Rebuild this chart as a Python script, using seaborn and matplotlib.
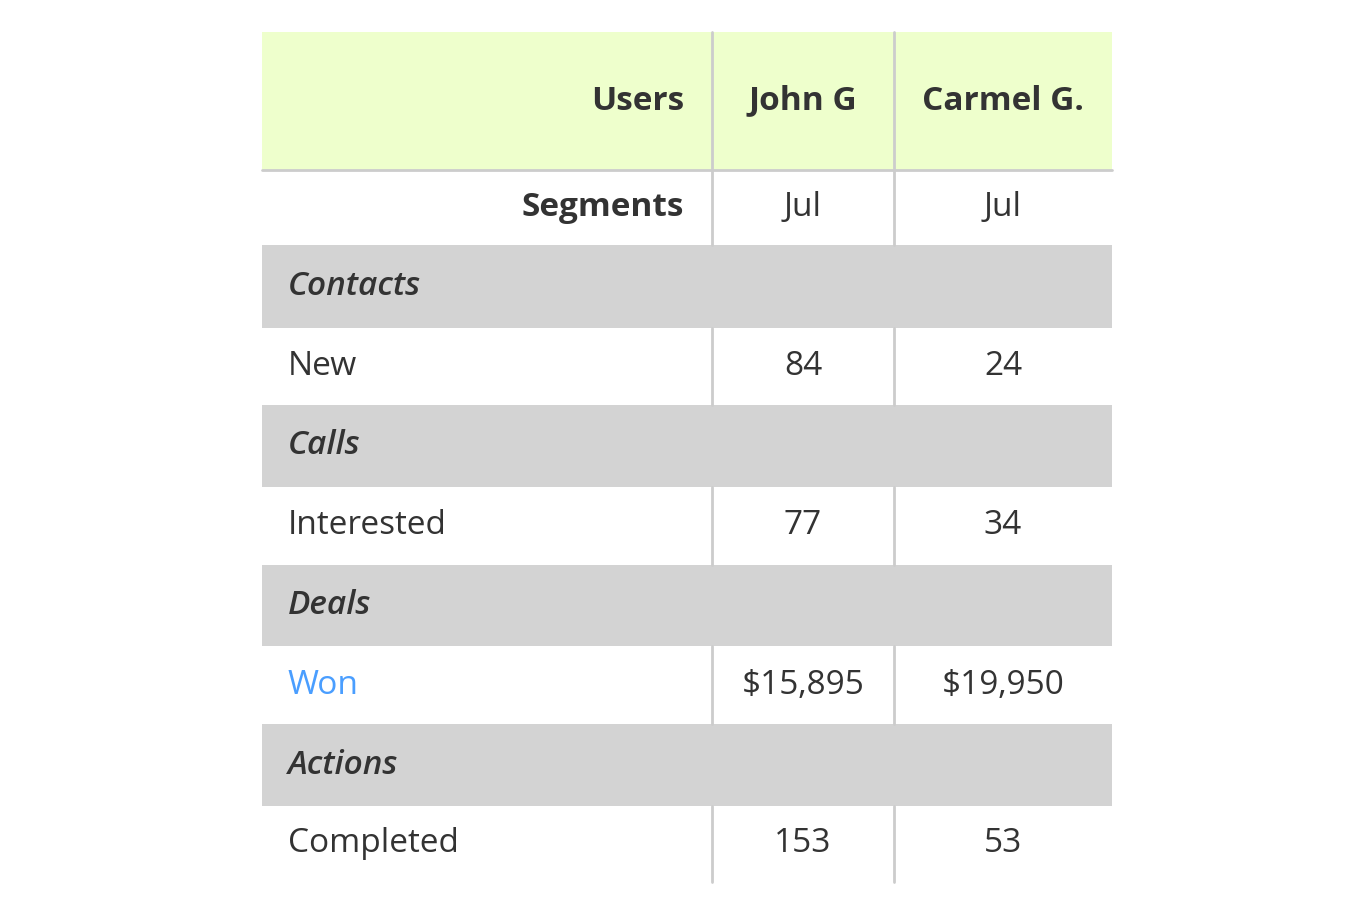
import matplotlib
matplotlib.use("Agg")
import matplotlib.pyplot as plt
from matplotlib.patches import Rectangle
import seaborn as sns

sns.set_theme(style="white")

users = ["John G", "Carmel G."]
segments = ["Jul", "Jul"]
sections = ["Contacts", "Calls", "Deals", "Actions"]
metrics = ["New", "Interested", "Won", "Completed"]
john_vals = ["84", "77", "$15,895", "153"]
carmel_vals = ["24", "34", "$19,950", "53"]

W, H = 1372, 914
fig = plt.figure(figsize=(W / 100, H / 100), dpi=100)
ax = fig.add_axes([0, 0, 1, 1])
ax.set_xlim(0, W)
ax.set_ylim(H, 0)
ax.axis("off")

FONT = "Open Sans"
TXT = "#333333"
FS = 24
colx = [262, 712, 894, 1112]
rows = [32, 170, 245, 328, 405, 487, 565, 646, 724, 806, 882]

def rect(x0, y0, x1, y1, c):
    ax.add_patch(Rectangle((x0, y0), x1 - x0, y1 - y0, color=c, lw=0, zorder=1))

# header
rect(colx[0], rows[0], colx[3], rows[1], "#eeffcc")
ax.plot([colx[0], colx[3]], [rows[1], rows[1]], color="#cccccc", lw=2, zorder=3)
ax.text(colx[1] - 28, (rows[0] + rows[1]) / 2, "Users", ha="right", va="center",
        fontsize=FS, fontweight="bold", color=TXT, family=FONT)
for i, u in enumerate(users):
    ax.text((colx[i + 1] + colx[i + 2]) / 2, (rows[0] + rows[1]) / 2, u, ha="center",
            va="center", fontsize=FS, fontweight="bold", color=TXT, family=FONT)
# segments
ym = (rows[1] + rows[2]) / 2
ax.text(colx[1] - 28, ym, "Segments", ha="right", va="center", fontsize=FS,
        fontweight="bold", color=TXT, family=FONT)
for i, s in enumerate(segments):
    ax.text((colx[i + 1] + colx[i + 2]) / 2, ym, s, ha="center", va="center",
            fontsize=FS, color=TXT, family=FONT)

# vertical lines on header / segments
for x in colx[1:3]:
    ax.plot([x, x], [rows[0], rows[2]], color="#cccccc", lw=2, zorder=2)

for k, (sec, met) in enumerate(zip(sections, metrics)):
    y0, y1, y2 = rows[2 + 2 * k], rows[3 + 2 * k], rows[4 + 2 * k]
    rect(colx[0], y0, colx[3], y1, "#d3d3d3")
    ax.text(colx[0] + 26, (y0 + y1) / 2, sec, ha="left", va="center", fontsize=FS,
            style="italic", fontweight="semibold", color=TXT, family=FONT)
    ymid = (y1 + y2) / 2
    ax.text(colx[0] + 26, ymid, met, ha="left", va="center", fontsize=FS,
            color="#4a9eff" if met == "Won" else TXT, family=FONT)
    for i, v in enumerate([john_vals[k], carmel_vals[k]]):
        ax.text((colx[i + 1] + colx[i + 2]) / 2, ymid, v, ha="center", va="center",
                fontsize=FS, color=TXT, family=FONT)
    for x in colx[1:3]:
        ax.plot([x, x], [y1, y2], color="#cccccc", lw=2, zorder=2)

fig.savefig("out.png", dpi=100, facecolor="white")
